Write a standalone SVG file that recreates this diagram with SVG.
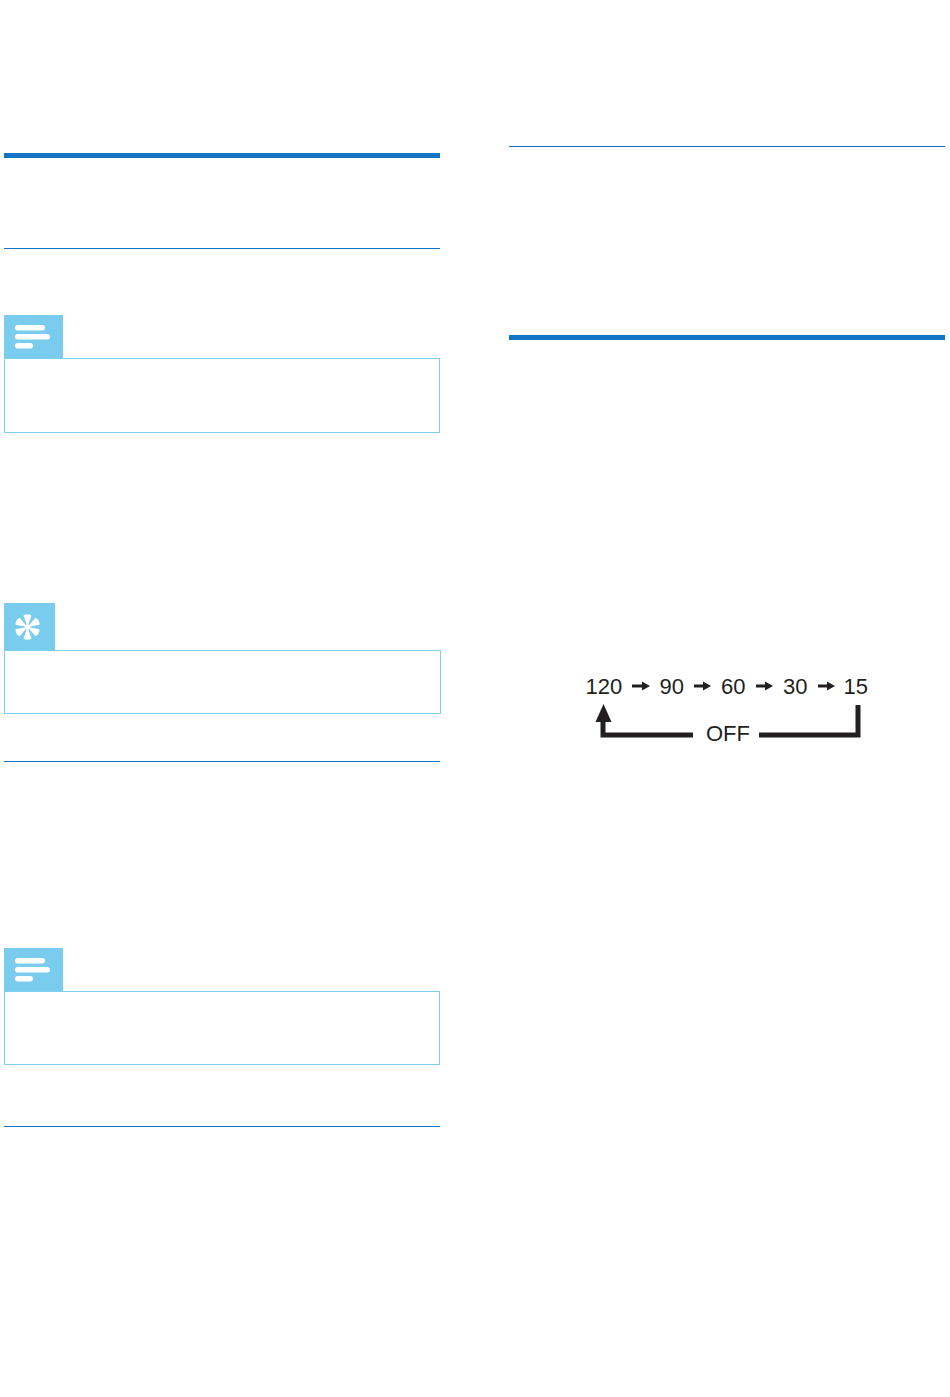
<svg xmlns="http://www.w3.org/2000/svg" width="950" height="1397" viewBox="0 0 950 1397">
<style>
.thick{fill:#1474c4}
.thin{stroke:#1474c4;stroke-width:1;fill:none}
.box{fill:#fff;stroke:#7dd0ee;stroke-width:1}
.tab{fill:#7accee}
.bar{fill:#fff}
.lbl{font-family:"Liberation Sans",Arial,sans-serif;font-size:22px;fill:#231f20}
.wire{fill:none;stroke:#231f20;stroke-width:5}
.mini{fill:none;stroke:#231f20;stroke-width:3}
.head{fill:#231f20}
</style>
<defs>
<path id="petal" d="M-0.800 -2.500L-4 -11.500Q0 -14.200 4 -11.500L0.800 -2.500Z" fill="#fff"/>
</defs>
<rect width="950" height="1397" fill="#fff"/>
<g id="rules">
<rect class="thick" x="4" y="153" width="436" height="5"/>
<rect class="thick" x="509" y="335" width="436" height="5"/>
<line class="thin" x1="4" y1="248.500" x2="440" y2="248.500"/>
<line class="thin" x1="4" y1="761.500" x2="440" y2="761.500"/>
<line class="thin" x1="4" y1="1126.500" x2="440" y2="1126.500"/>
<line class="thin" x1="509" y1="146.500" x2="945" y2="146.500"/>
</g>
<g id="note-1">
<rect class="box" x="4.500" y="358.500" width="435" height="74"/>
<rect class="tab" x="4" y="315" width="59" height="43"/>
<rect class="bar" x="15" y="325" width="30" height="5.500" rx="2.700"/>
<rect class="bar" x="15" y="334" width="35" height="5.500" rx="2.700"/>
<rect class="bar" x="15" y="343" width="18" height="5.500" rx="2.700"/>
</g>
<g id="tip">
<rect class="box" x="4.500" y="650.500" width="436" height="63"/>
<rect class="tab" x="4" y="603" width="51" height="47"/>
<g transform="translate(27.500 627)">
<use href="#petal"/>
<use href="#petal" transform="rotate(60)"/>
<use href="#petal" transform="rotate(120)"/>
<use href="#petal" transform="rotate(180)"/>
<use href="#petal" transform="rotate(240)"/>
<use href="#petal" transform="rotate(300)"/>
<circle r="2.800" fill="#fff"/>
</g>
</g>
<g id="note-2">
<rect class="box" x="4.500" y="991.500" width="435" height="73"/>
<rect class="tab" x="4" y="948" width="59" height="43"/>
<rect class="bar" x="15" y="958" width="30" height="5.500" rx="2.700"/>
<rect class="bar" x="15" y="967" width="35" height="5.500" rx="2.700"/>
<rect class="bar" x="15" y="976" width="18" height="5.500" rx="2.700"/>
</g>
<g id="node-120"><text class="lbl" x="585.500" y="694">120</text></g>
<g id="node-90"><text class="lbl" x="659.500" y="694">90</text></g>
<g id="node-60"><text class="lbl" x="721" y="694">60</text></g>
<g id="node-30"><text class="lbl" x="783" y="694">30</text></g>
<g id="node-15"><text class="lbl" x="843.500" y="694">15</text></g>
<g id="node-off"><text class="lbl" x="706" y="741">OFF</text></g>
<g id="connectors">
<line class="mini" x1="632" y1="686" x2="644" y2="686"/><path class="head" d="M642 681.500L650 686L642 690.500Z"/>
<line class="mini" x1="694" y1="686" x2="705" y2="686"/><path class="head" d="M703 681.500L711 686L703 690.500Z"/>
<line class="mini" x1="756" y1="686" x2="767" y2="686"/><path class="head" d="M765 681.500L773 686L765 690.500Z"/>
<line class="mini" x1="818" y1="686" x2="829" y2="686"/><path class="head" d="M827 681.500L835 686L827 690.500Z"/>
<path class="wire" d="M858 705V735H759"/>
<path class="wire" d="M693 735H603V720"/>
<path class="head" d="M603.500 704L611.500 722H595.500Z"/>
</g>
</svg>
